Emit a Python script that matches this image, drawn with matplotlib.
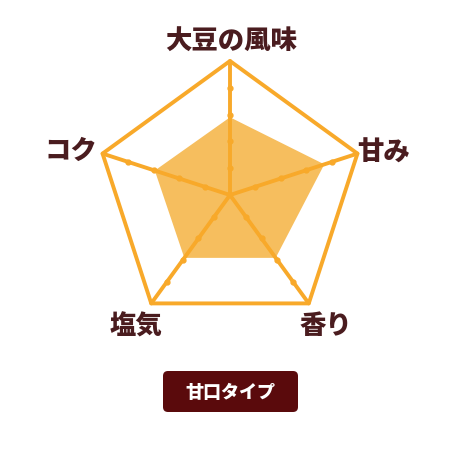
import numpy as np
import matplotlib.pyplot as plt
from matplotlib.patches import Polygon, FancyBboxPatch

plt.rcParams['font.family'] = ['Noto Sans CJK JP', 'DejaVu Sans']

# chart data (scale 0-5)
labels = ['大豆の風味', '甘み', '香り', '塩気', 'コク']
values = [2.9, 3.7, 2.9, 2.9, 2.95]
max_value = 5
badge_text = '甘口タイプ'

line_color = '#F8A92A'
fill_color = '#F6BE5E'
text_color = '#4A1C1F'
badge_color = '#5A0A0C'

cx, cy, R = 230, 196, 134

fig = plt.figure(figsize=(4.6, 4.6), dpi=100)
ax = fig.add_axes([0, 0, 1, 1])
ax.set_xlim(0, 460)
ax.set_ylim(460, 0)
ax.axis('off')

n = len(labels)
angles = np.pi / 2 - 2 * np.pi * np.arange(n) / n


def to_xy(r, a):
    return cx + r * np.cos(a), cy - r * np.sin(a)


# filled data polygon
r_vals = np.array(values) / max_value * R
pts = np.column_stack(to_xy(r_vals, angles))
ax.add_patch(Polygon(pts, closed=True, facecolor=fill_color, edgecolor='none', zorder=1))

# outer pentagon
outer = np.column_stack(to_xy(np.full(n, R), angles))
ax.add_patch(Polygon(outer, closed=True, fill=False, edgecolor=line_color,
                     linewidth=2.8, joinstyle='round', zorder=2))

# spokes and tick dots
for a in angles:
    x1, y1 = to_xy(R, a)
    ax.plot([cx, x1], [cy, y1], color=line_color, lw=2.8, solid_capstyle='round', zorder=3)
    for lvl in range(1, max_value):
        tx, ty = to_xy(lvl / max_value * R, a)
        ax.plot(tx, ty, 'o', color=line_color, ms=3.5, zorder=4)

# axis labels
label_pos = [(231, 41), (384, 152), (326, 326), (136, 326), (71, 151)]
for lab, (lx, ly) in zip(labels, label_pos):
    ax.text(lx, ly, lab, ha='center', va='center', fontsize=19,
            fontweight='heavy', color=text_color)

# badge
ax.add_patch(FancyBboxPatch((163, 372), 135, 41, boxstyle='round,pad=0,rounding_size=5',
                            facecolor=badge_color, edgecolor='none'))
ax.text(230.5, 392.5, badge_text, ha='center', va='center', fontsize=13,
        fontweight='heavy', color='white')

fig.savefig('out.png', dpi=100)
